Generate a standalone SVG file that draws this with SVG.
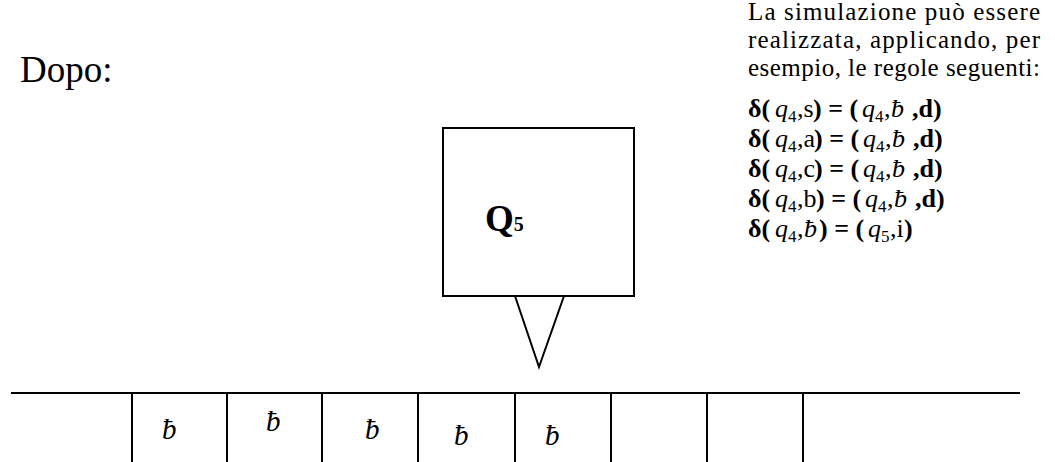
<svg xmlns="http://www.w3.org/2000/svg" width="1055" height="462" viewBox="0 0 1055 462">
<style>
text{font-family:"Liberation Serif","DejaVu Serif",serif;fill:#000}
.p{font-size:25px}
.f{font-size:26px}
.b{font-weight:bold}
.i{font-style:italic}
.sub{font-size:17px}
.ln{stroke:#000;stroke-width:2;fill:none}
.blank{font-size:29px;font-style:italic}
</style>
<rect width="1055" height="462" fill="#fff"/>
<text x="20" y="82" style="font-size:37px">Dopo:</text>
<g id="text">
<text class="p" x="748" y="20" textLength="292" lengthAdjust="spacing">La simulazione può essere</text>
<text class="p" x="748" y="48" textLength="292" lengthAdjust="spacing">realizzata, applicando, per</text>
<text class="p" x="748" y="76" textLength="292" lengthAdjust="spacing">esempio, le regole seguenti:</text>
</g>
<g id="rules" class="f">
<g id="r1"><text x="748" y="117" class="b">δ(</text><text x="775" y="117" class="i">q</text><text x="788" y="122" class="sub">4</text><text x="797" y="117">,s</text><text x="813" y="117" class="b">) = (</text><text x="862" y="117" class="i">q</text><text x="875" y="122" class="sub">4</text><text x="884" y="117">,</text><text x="891" y="117" class="i">ƀ</text><text x="912" y="117" class="b">,d)</text></g>
<g id="r2"><text x="748" y="147" class="b">δ(</text><text x="775" y="147" class="i">q</text><text x="788" y="152" class="sub">4</text><text x="797" y="147">,a</text><text x="814" y="147" class="b">) = (</text><text x="863" y="147" class="i">q</text><text x="876" y="152" class="sub">4</text><text x="885" y="147">,</text><text x="892" y="147" class="i">ƀ</text><text x="913" y="147" class="b">,d)</text></g>
<g id="r3"><text x="748" y="177" class="b">δ(</text><text x="775" y="177" class="i">q</text><text x="788" y="182" class="sub">4</text><text x="797" y="177">,c</text><text x="814" y="177" class="b">) = (</text><text x="863" y="177" class="i">q</text><text x="876" y="182" class="sub">4</text><text x="885" y="177">,</text><text x="892" y="177" class="i">ƀ</text><text x="913" y="177" class="b">,d)</text></g>
<g id="r4"><text x="748" y="207" class="b">δ(</text><text x="775" y="207" class="i">q</text><text x="788" y="212" class="sub">4</text><text x="797" y="207">,b</text><text x="816" y="207" class="b">) = (</text><text x="865" y="207" class="i">q</text><text x="878" y="212" class="sub">4</text><text x="887" y="207">,</text><text x="894" y="207" class="i">ƀ</text><text x="915" y="207" class="b">,d)</text></g>
<g id="r5"><text x="748" y="237" class="b">δ(</text><text x="775" y="237" class="i">q</text><text x="788" y="242" class="sub">4</text><text x="797" y="237">,</text><text x="804" y="237" class="i">ƀ</text><text x="819" y="237" class="b">) = (</text><text x="868" y="237" class="i">q</text><text x="881" y="242" class="sub">5</text><text x="890" y="237">,i</text><text x="904" y="237" class="b">)</text></g>
</g>
<g id="head">
<rect class="ln" x="443" y="128" width="191" height="168"/>
<path class="ln" d="M515 296 L539 367 L564 296"/>
<text x="485" y="231" class="b" style="font-size:37px">Q<tspan style="font-size:20px">5</tspan></text>
</g>
<g id="tape">
<path class="ln" d="M11 393 H1020 M132 393 V462 M227 393 V462 M322 393 V462 M418 393 V462 M515 393 V462 M611 393 V462 M707 393 V462 M803 393 V462"/>
<text class="blank" x="162" y="439">ƀ</text>
<text class="blank" x="266" y="431">ƀ</text>
<text class="blank" x="365" y="439">ƀ</text>
<text class="blank" x="454" y="445">ƀ</text>
<text class="blank" x="545" y="445">ƀ</text>
</g>
</svg>
